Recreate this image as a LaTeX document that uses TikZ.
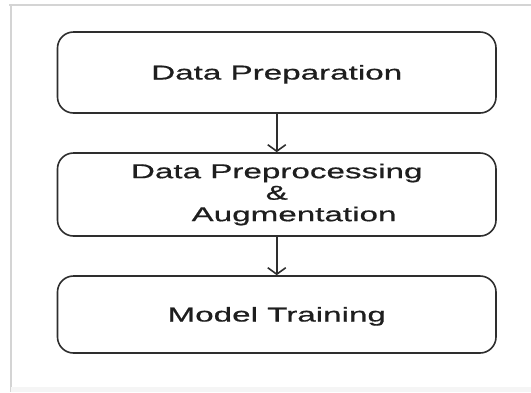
\documentclass[tikz,border=0pt]{standalone}
\usepackage{fontspec}
\setmainfont{Liberation Sans}[FakeStretch=1.66, FakeBold=0.7]
\usetikzlibrary{arrows.meta}
\definecolor{inkgray}{HTML}{1E1E1E}
\definecolor{edgegray}{HTML}{2E2E2E}
\definecolor{framegray}{HTML}{D4D4D4}
\tikzset{
  stage/.style={draw=edgegray, line width=1.6pt, rounded corners=16pt,
    minimum width=438.5pt, inner sep=0pt, text=inkgray,
    font=\fontsize{20}{21.5}\selectfont, align=center},
  oneline/.style={text height=14pt, text depth=0pt},
  flow/.style={draw=edgegray, line width=1.6pt,
    -{Straight Barb[length=6.5pt,width=18pt,line width=1.6pt]}},
  frame/.style={draw=framegray, line width=1.6pt}
}
\begin{document}
\begin{tikzpicture}[x=1pt,y=-1pt]
  \useasboundingbox (0,0) rectangle (531,392);
  % light page frame
  \draw[frame] (9,5) -- (531,5);
  \draw[frame] (11,5) -- (11,392);
  \fill[gray!8] (11,387) rectangle (531,392);

  % pipeline stages
  \node[stage, oneline, minimum height=81pt] (prep) at (276.75,72.5) {Data Preparation};
  \node[stage, minimum height=83pt] (aug) at (276.75,194.5)
    {Data Preprocessing\\\&\\\hspace*{34.6pt}Augmentation};
  \node[stage, oneline, minimum height=77pt] (train) at (276.75,314.5) {Model Training};

  % connectors
  \draw[flow] (prep) -- (aug);
  \draw[flow] (aug) -- (train);
\end{tikzpicture}
\end{document}
